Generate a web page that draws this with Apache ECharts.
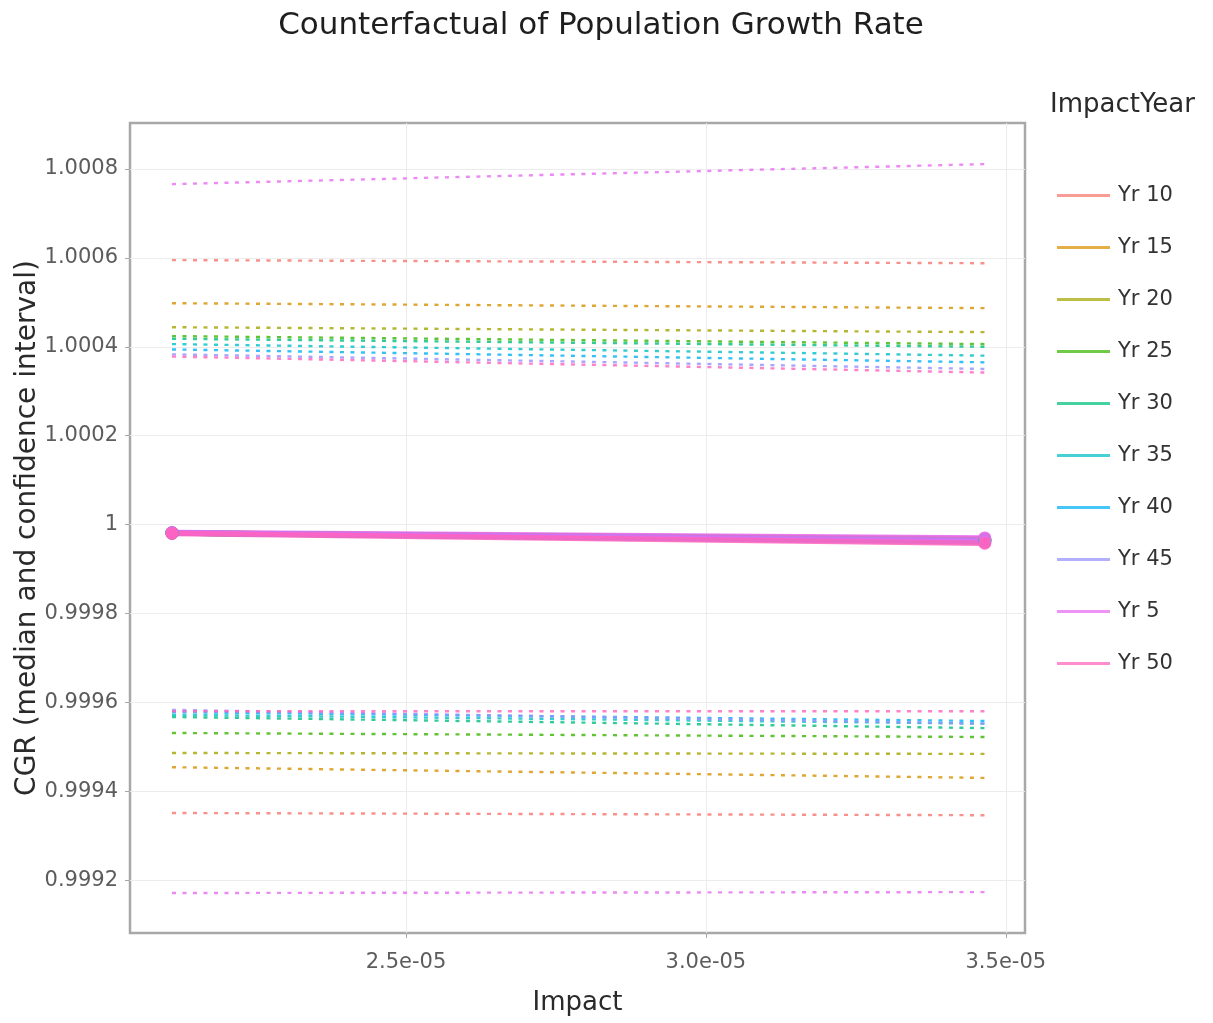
<!DOCTYPE html>
<html><head><meta charset="utf-8">
<script src="https://cdn.jsdelivr.net/npm/echarts@6/dist/echarts.min.js"></script>
<style>html,body{margin:0;padding:0;background:#fff}#c{width:1213px;height:1023px}</style>
</head><body><div id="c"></div><script>
const years = ['Yr 10','Yr 15','Yr 20','Yr 25','Yr 30','Yr 35','Yr 40','Yr 45','Yr 5','Yr 50'];
const colors = ['#F8766D','#D89000','#A3A500','#39B600','#00BF7D','#00BFC4','#00B0F6','#9590FF','#E76BF3','#FF62BC'];
const impact = [2.11e-5, 3.465e-5];
const medianLeft  = [0.999981, 0.999981, 0.999981, 0.999981, 0.999981, 0.999981, 0.999981, 0.999981, 0.999982, 0.999980];
const medianRight = [0.999968, 0.999966, 0.999966, 0.999965, 0.999964, 0.999963, 0.999962, 0.999961, 0.999970, 0.999958];
const upperLeft   = [1.000595, 1.000498, 1.000444, 1.000424, 1.000418, 1.000406, 1.000394, 1.000383, 1.000766, 1.000378];
const upperRight  = [1.000588, 1.000487, 1.000433, 1.000406, 1.000400, 1.000380, 1.000365, 1.000350, 1.000811, 1.000342];
const lowerLeft   = [0.999351, 0.999454, 0.999486, 0.999531, 0.999567, 0.999572, 0.999578, 0.999583, 0.999171, 0.999580];
const lowerRight  = [0.999346, 0.999430, 0.999484, 0.999522, 0.999542, 0.999552, 0.999558, 0.999552, 0.999173, 0.999580];
const xTicks = [2.5e-5, 3.0e-5, 3.5e-5];
const xTickLabels = ['2.5e-05', '3.0e-05', '3.5e-05'];
const yTicks = [0.9992, 0.9994, 0.9996, 0.9998, 1.0, 1.0002, 1.0004, 1.0006, 1.0008];
const yTickLabels = ['0.9992', '0.9994', '0.9996', '0.9998', '1', '1.0002', '1.0004', '1.0006', '1.0008'];

const FONT = 'DejaVu Sans';
const series = [];
years.forEach((y, i) => {
  [[upperLeft, upperRight], [lowerLeft, lowerRight]].forEach(([a, b]) => {
    series.push({
      name: y, type: 'line', symbol: 'none', silent: true,
      data: [[impact[0], a[i]], [impact[1], b[i]]],
      lineStyle: { color: colors[i], width: 2.4, type: [4, 6.5], opacity: 0.8 },
      itemStyle: { color: colors[i] }, z: 2
    });
  });
});
years.forEach((y, i) => {
  series.push({
    name: y, type: 'line', symbol: 'circle', symbolSize: 13, showSymbol: true,
    data: [[impact[0], medianLeft[i]], [impact[1], medianRight[i]]],
    lineStyle: { color: colors[i], width: 5.5, opacity: 0.85 },
    itemStyle: { color: colors[i], opacity: 0.9 }, z: 3
  });
});

const chart = echarts.init(document.getElementById('c'), null, { renderer: 'canvas' });
chart.setOption({
  animation: false,
  backgroundColor: '#ffffff',
  title: [
    { text: 'Counterfactual of Population Growth Rate', left: 596, top: 5, textAlign: 'center',
      textStyle: { fontFamily: FONT, fontSize: 31, fontWeight: 'normal', color: '#1e1e1e' } },
    { text: 'ImpactYear', left: 1045, top: 87,
      textStyle: { fontFamily: FONT, fontSize: 26, fontWeight: 'normal', color: '#2a2a2a' } }
  ],
  legend: {
    data: years, orient: 'vertical', left: 1052, top: 180,
    icon: 'rect', itemWidth: 53, itemHeight: 3, itemGap: 31,
    itemStyle: { opacity: 0.72 },
    textStyle: { fontFamily: FONT, fontSize: 21, color: '#333', padding: [0, 0, 0, 3] }
  },
  grid: { left: 130, right: 188, top: 123, bottom: 90, show: true, borderColor: '#a8a8a8', borderWidth: 2.5,
    containLabel: false, outerBoundsMode: 'none' },
  xAxis: {
    type: 'value', min: 2.04e-5, max: 3.532e-5,
    name: 'Impact', nameLocation: 'middle', nameGap: 57, nameMoveOverlap: false,
    nameTextStyle: { fontFamily: FONT, fontSize: 26, color: '#2a2a2a' },
    axisLine: { show: false },
    axisTick: { show: true, length: 5, lineStyle: { color: '#a8a8a8' }, customValues: xTicks },
    axisLabel: { fontFamily: FONT, fontSize: 21, color: '#5c5c5c', margin: 19, customValues: xTicks,
      formatter: v => { const k = xTicks.findIndex(t => Math.abs(t - v) < 1e-9); return k >= 0 ? xTickLabels[k] : ''; } },
    splitLine: { show: true, lineStyle: { color: '#ececec', width: 1 } }
  },
  yAxis: {
    type: 'value', min: 0.999081, max: 1.0009035,
    name: 'CGR (median and confidence interval)', nameLocation: 'middle', nameGap: 88, nameMoveOverlap: false,
    nameTextStyle: { fontFamily: FONT, fontSize: 28, color: '#2a2a2a' },
    axisLine: { show: false },
    axisTick: { show: true, length: 5, lineStyle: { color: '#a8a8a8' }, customValues: yTicks },
    axisLabel: { fontFamily: FONT, fontSize: 21, color: '#5c5c5c', margin: 12, customValues: yTicks,
      formatter: v => { const k = yTicks.findIndex(t => Math.abs(t - v) < 1e-9); return k >= 0 ? yTickLabels[k] : ''; } },
    splitLine: { show: true, lineStyle: { color: '#ececec', width: 1 } }
  },
  series: series
});
</script></body></html>
